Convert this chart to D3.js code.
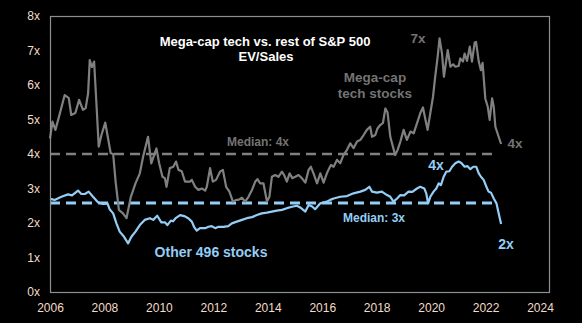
<!DOCTYPE html>
<html>
<head>
<meta charset="utf-8">
<script src="https://cdn.jsdelivr.net/npm/d3@7"></script>
<style>
  html, body { margin: 0; padding: 0; background: #000; }
  svg { display: block; font-family: "Liberation Sans", Arial, sans-serif; }
</style>
</head>
<body>
<svg id="chart" width="582" height="323"></svg>
<script>
// decimal years + EV/Sales multiples
const megaCapYears = [2006.00, 2006.09, 2006.20, 2006.37, 2006.54, 2006.69, 2006.78, 2006.93, 2007.07, 2007.21,
    2007.31, 2007.40, 2007.46, 2007.54, 2007.62, 2007.71, 2007.79, 2007.89, 2008.03, 2008.11,
    2008.23, 2008.32, 2008.41, 2008.53, 2008.68, 2008.81, 2008.97, 2009.14, 2009.30, 2009.42,
    2009.60, 2009.72, 2009.91, 2010.01, 2010.13, 2010.22, 2010.28, 2010.40, 2010.53, 2010.63,
    2010.72, 2010.84, 2010.96, 2011.15, 2011.21, 2011.33, 2011.45, 2011.58, 2011.70, 2011.76,
    2011.88, 2011.98, 2012.10, 2012.25, 2012.35, 2012.47, 2012.59, 2012.72, 2012.84, 2012.92,
    2013.05, 2013.17, 2013.29, 2013.42, 2013.54, 2013.62, 2013.72, 2013.84, 2013.97, 2014.06,
    2014.15, 2014.27, 2014.39, 2014.52, 2014.60, 2014.70, 2014.80, 2014.90, 2015.01, 2015.13,
    2015.25, 2015.38, 2015.50, 2015.58, 2015.68, 2015.81, 2015.93, 2016.05, 2016.17, 2016.23,
    2016.32, 2016.42, 2016.54, 2016.66, 2016.78, 2016.91, 2017.03, 2017.15, 2017.28, 2017.40,
    2017.52, 2017.64, 2017.76, 2017.83, 2017.95, 2018.03, 2018.13, 2018.23, 2018.32, 2018.40,
    2018.50, 2018.58, 2018.68, 2018.77, 2018.87, 2018.99, 2019.11, 2019.24, 2019.36, 2019.48,
    2019.60, 2019.70, 2019.79, 2019.87, 2019.97, 2020.07, 2020.15, 2020.24, 2020.31, 2020.40,
    2020.47, 2020.61, 2020.71, 2020.81, 2020.89, 2021.01, 2021.07, 2021.17, 2021.23, 2021.32,
    2021.42, 2021.50, 2021.60, 2021.65, 2021.75, 2021.83, 2021.89, 2021.99, 2022.08, 2022.15,
    2022.24, 2022.30, 2022.36, 2022.48, 2022.57];
const megaCapValues = [4.45, 4.94, 4.70, 5.20, 5.71, 5.62, 5.13, 5.19, 5.57, 5.28,
    5.33, 5.76, 6.72, 6.52, 6.68, 5.40, 4.21, 4.55, 4.91, 4.55,
    4.02, 4.00, 3.20, 2.38, 2.28, 2.14, 2.76, 3.15, 3.44, 3.92,
    4.50, 3.73, 4.16, 3.73, 3.34, 3.30, 3.05, 3.59, 3.63, 3.78,
    3.54, 3.50, 3.20, 3.20, 3.25, 3.05, 2.96, 3.00, 2.94, 3.05,
    3.59, 3.20, 3.25, 3.49, 3.54, 3.05, 2.91, 2.62, 2.67, 2.67,
    2.73, 2.62, 2.76, 2.96, 3.20, 3.27, 3.15, 3.15, 2.62, 2.76,
    3.34, 3.39, 3.34, 3.49, 3.39, 3.20, 3.44, 3.30, 3.34, 3.39,
    3.30, 3.17, 3.54, 3.63, 3.44, 3.15, 3.44, 3.17, 3.44, 3.54,
    3.68, 3.63, 3.83, 3.73, 3.97, 4.12, 4.31, 4.17, 4.36, 4.41,
    4.55, 4.70, 4.79, 4.50, 4.55, 4.74, 4.84, 4.90, 5.32, 5.20,
    4.50, 4.26, 3.97, 4.12, 4.36, 4.70, 4.41, 4.65, 4.60, 4.89,
    5.18, 5.35, 5.00, 4.70, 5.18, 5.66, 6.24, 6.82, 7.35, 6.91,
    6.24, 7.01, 6.53, 6.60, 6.53, 6.55, 6.77, 6.68, 6.91, 6.70,
    7.11, 6.68, 7.23, 7.25, 6.68, 6.43, 6.64, 5.61, 5.37, 4.99,
    5.61, 5.37, 4.79, 4.50, 4.29];

const otherYears = [2006.00, 2006.17, 2006.42, 2006.66, 2006.81, 2007.03, 2007.15, 2007.28, 2007.42, 2007.58,
    2007.76, 2007.95, 2008.11, 2008.19, 2008.32, 2008.44, 2008.56, 2008.72, 2008.87, 2008.99,
    2009.14, 2009.30, 2009.48, 2009.67, 2009.79, 2009.94, 2010.09, 2010.22, 2010.31, 2010.44,
    2010.52, 2010.63, 2010.78, 2010.93, 2011.08, 2011.21, 2011.29, 2011.39, 2011.51, 2011.70,
    2011.82, 2011.94, 2012.07, 2012.19, 2012.37, 2012.55, 2012.68, 2012.86, 2013.05, 2013.23,
    2013.42, 2013.60, 2013.78, 2013.97, 2014.15, 2014.33, 2014.52, 2014.70, 2014.89, 2015.07,
    2015.19, 2015.38, 2015.50, 2015.63, 2015.74, 2015.93, 2016.17, 2016.29, 2016.42, 2016.66,
    2016.91, 2017.15, 2017.40, 2017.58, 2017.73, 2017.83, 2018.01, 2018.19, 2018.38, 2018.50,
    2018.62, 2018.75, 2018.87, 2019.01, 2019.17, 2019.31, 2019.48, 2019.60, 2019.75, 2019.82,
    2019.89, 2019.97, 2020.09, 2020.19, 2020.28, 2020.36, 2020.46, 2020.56, 2020.67, 2020.77,
    2020.89, 2021.01, 2021.11, 2021.23, 2021.33, 2021.44, 2021.55, 2021.66, 2021.75, 2021.83,
    2021.93, 2022.03, 2022.11, 2022.20, 2022.30, 2022.40, 2022.48, 2022.57];
const otherValues = [2.70, 2.67, 2.76, 2.83, 2.80, 2.94, 2.84, 2.84, 2.91, 2.76,
    2.60, 2.55, 2.57, 2.40, 2.28, 1.99, 1.75, 1.60, 1.41, 1.60,
    1.75, 1.94, 2.09, 2.14, 2.09, 2.21, 2.02, 2.02, 1.94, 2.07,
    2.05, 2.15, 2.23, 2.20, 2.14, 2.04, 1.89, 1.78, 1.85, 1.85,
    1.89, 1.91, 1.85, 1.89, 1.89, 1.91, 1.99, 2.04, 2.09, 2.14,
    2.17, 2.23, 2.28, 2.30, 2.33, 2.36, 2.38, 2.43, 2.47, 2.50,
    2.45, 2.33, 2.52, 2.48, 2.40, 2.57, 2.62, 2.67, 2.71, 2.76,
    2.78, 2.86, 2.91, 2.96, 3.05, 2.91, 2.88, 2.91, 2.81, 2.76,
    2.62, 2.71, 2.81, 2.80, 2.91, 2.90, 3.00, 3.05, 3.00, 2.86,
    2.57, 2.76, 2.91, 3.00, 3.15, 3.10, 3.34, 3.49, 3.50, 3.63,
    3.73, 3.78, 3.74, 3.63, 3.65, 3.56, 3.63, 3.63, 3.44, 3.34,
    3.25, 3.05, 2.91, 2.88, 2.71, 2.57, 2.28, 1.97];

const megaCapMedian = 4.0;
const otherMedian = 2.58;
const medianSpan = [2006, 2022.45];

const xTicks = [2006, 2008, 2010, 2012, 2014, 2016, 2018, 2020, 2022, 2024];
const yTicks = [0, 1, 2, 3, 4, 5, 6, 7, 8];

const width = 582;
const height = 323;
const margins = {left: 50, top: 16, right: 33, bottom: 31};

const grey = "#808080";
const greyText = "#737373";
const blue = "#94cdf6";
const tickColor = "#f3dcc8";

const svg = d3.select("#chart");

const scaleX = d3.scaleLinear()
    .domain([2006, 2024.33])
    .range([margins.left, width - margins.right]);

const scaleY = d3.scaleLinear()
    .domain([0, 8])
    .range([height - margins.bottom, margins.top]);

function drawFrame() {
    svg.append("rect")
        .attr("x", margins.left + 0.5)
        .attr("y", margins.top + 0.5)
        .attr("width", width - margins.left - margins.right)
        .attr("height", height - margins.top - margins.bottom)
        .attr("fill", "none")
        .attr("stroke", "#8f8f8f")
        .attr("stroke-width", 1.2);
}

function drawXAxis() {
    const xAxis = d3.axisBottom(scaleX)
        .tickValues(xTicks)
        .tickFormat(d3.format("d"))
        .tickSize(0)
        .tickPadding(11);

    const g = svg.append("g")
        .attr("transform", `translate(0, ${height - margins.bottom})`)
        .call(xAxis);

    g.select(".domain").remove();
    g.selectAll("text")
        .attr("fill", tickColor)
        .style("font-size", "12px");
}

function drawYAxis() {
    const yAxis = d3.axisLeft(scaleY)
        .tickValues(yTicks)
        .tickFormat(d => d + "x")
        .tickSize(0)
        .tickPadding(10);

    const g = svg.append("g")
        .attr("transform", `translate(${margins.left}, 0)`)
        .call(yAxis);

    g.select(".domain").remove();
    g.selectAll("text")
        .attr("fill", tickColor)
        .style("font-size", "12px");
}

function drawMedians() {
    const medians = [
        {value: megaCapMedian, color: grey, width: 2.5},
        {value: otherMedian, color: blue, width: 2.8}
    ];

    svg.selectAll("line.median")
        .data(medians)
        .enter()
        .append("line")
        .attr("class", "median")
        .attr("x1", scaleX(medianSpan[0]))
        .attr("x2", scaleX(medianSpan[1]))
        .attr("y1", d => scaleY(d.value))
        .attr("y2", d => scaleY(d.value))
        .attr("stroke", d => d.color)
        .attr("stroke-width", d => d.width)
        .attr("stroke-dasharray", "10,6");
}

function drawLines() {
    const line = d3.line()
        .x(d => scaleX(d[0]))
        .y(d => scaleY(d[1]));

    const series = [
        {points: d3.zip(megaCapYears, megaCapValues), color: grey},
        {points: d3.zip(otherYears, otherValues), color: blue}
    ];

    svg.selectAll("path.series")
        .data(series)
        .enter()
        .append("path")
        .attr("class", "series")
        .attr("d", d => line(d.points))
        .attr("fill", "none")
        .attr("stroke", d => d.color)
        .attr("stroke-width", 2.2)
        .attr("stroke-linejoin", "round");
}

function drawLabels() {
    const labels = [
        {text: "Mega-cap tech vs. rest of S&P 500", x: 265, y: 46, color: "#fff", size: 13, weight: "bold"},
        {text: "EV/Sales", x: 266, y: 61, color: "#fff", size: 13, weight: "bold"},
        {text: "Median: 4x", x: 258, y: 146, color: greyText, size: 12, weight: "bold"},
        {text: "Mega-cap", x: 375, y: 82, color: greyText, size: 13.5, weight: "bold"},
        {text: "tech stocks", x: 375, y: 98, color: greyText, size: 13.5, weight: "bold"},
        {text: "7x", x: 418, y: 43, color: greyText, size: 13.5, weight: "bold"},
        {text: "4x", x: 515, y: 148, color: greyText, size: 13.5, weight: "bold"},
        {text: "4x", x: 436, y: 170, color: blue, size: 14, weight: "bold"},
        {text: "2x", x: 506, y: 249, color: blue, size: 14, weight: "bold"},
        {text: "Median: 3x", x: 374, y: 222, color: blue, size: 12, weight: "bold"},
        {text: "Other 496 stocks", x: 211, y: 257, color: blue, size: 14, weight: "bold"}
    ];

    svg.selectAll("text.label")
        .data(labels)
        .enter()
        .append("text")
        .attr("class", "label")
        .attr("x", d => d.x)
        .attr("y", d => d.y)
        .attr("text-anchor", "middle")
        .attr("fill", d => d.color)
        .style("font-size", d => d.size + "px")
        .style("font-weight", d => d.weight)
        .text(d => d.text);
}

drawMedians();
drawLines();
drawFrame();
drawXAxis();
drawYAxis();
drawLabels();
</script>
</body>
</html>
